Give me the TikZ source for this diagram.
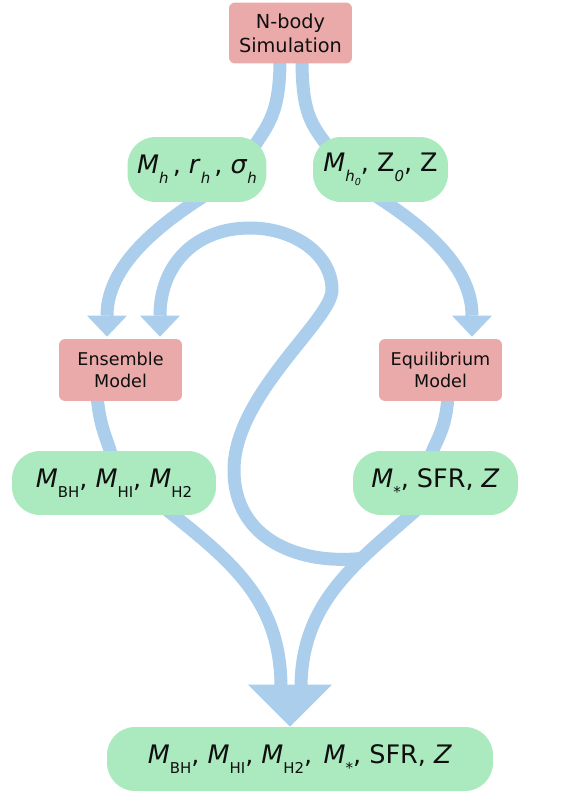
\documentclass[tikz,border=0pt]{standalone}
\usepackage{fontspec}
\setmainfont{DejaVu Sans}
\usetikzlibrary{arrows.meta,calc}
\pgfdeclarelayer{bg}
\pgfsetlayers{bg,main}
\definecolor{pinkbox}{RGB}{234,170,170}
\definecolor{greenbox}{RGB}{170,234,190}
\definecolor{flowblue}{RGB}{170,206,236}
\definecolor{ink}{RGB}{15,15,15}
\newcommand\Sb[1]{\raisebox{-5.5pt}{\fontsize{8.5}{9}\selectfont #1}}
\newcommand\Mi{\textit{M}}
\newcommand\cm{,\hspace{0.45em}}
\begin{document}
\begin{tikzpicture}[x=0.02cm,y=-0.02cm,
  modelbox/.style={fill=pinkbox, rounded corners=0.12cm, text=ink, align=center, inner sep=0pt,
    minimum width=2.46cm, minimum height=1.24cm, font=\fontsize{10}{12.5}\selectfont},
  databox/.style={fill=greenbox, rounded corners=0.56cm, text=ink, inner sep=0pt,
    minimum height=1.3cm, font=\fontsize{14.5}{17}\selectfont},
  flow/.style={draw=flowblue, line width=0.26cm},
  tipped/.style={-{Triangle[width=0.8cm,length=0.42cm,line width=0pt]}}]
\useasboundingbox (0,0) rectangle (564,794);

\node[modelbox, minimum height=1.22cm, font=\fontsize{11}{13.5}\selectfont] (sim) at (290.5,33) {N-body\\Simulation};
\node[databox, minimum width=2.78cm] (g1) at (197,169.5) {\Mi\Sb{\textit{h}}\,, \textit{r}\Sb{\textit{h}}\,, \textit{σ}\Sb{\textit{h}}};
\node[databox, minimum width=2.7cm] (g2) at (380.5,169.5) {\Mi\Sb{\textit{h}\raisebox{-2.5pt}{\fontsize{5.5}{6}\selectfont\textit{0}}}, Z\Sb{\textit{0}}, Z};
\node[modelbox] (ens) at (120.5,370) {Ensemble\\Model};
\node[modelbox] (equ) at (440.5,370) {Equilibrium\\Model};
\node[databox, minimum width=4.08cm, minimum height=1.28cm] (bh) at (114,483) {\Mi\Sb{BH}, \Mi\Sb{HI}, \Mi\Sb{H2}};
\node[databox, minimum width=3.3cm, minimum height=1.28cm] (ms) at (435.5,483) {\Mi\Sb{*}, SFR, \textit{Z}};
\node[databox, minimum width=7.72cm, minimum height=1.28cm] (fin) at (300,759) {\Mi\Sb{BH}, \Mi\Sb{HI}, \Mi\Sb{H2}\cm\Mi\Sb{*}, SFR, \textit{Z}};

\coordinate (J) at ($(ms.south)+(-73.5,43)$);

\begin{pgfonlayer}{bg}
\draw[flow] ($(sim.south)+(-10.5,-5)$) .. controls ($(sim.south)+(-10.5,50)$) and ($(g1.north)+(71,-12)$) .. ($(g1.north)+(55,13)$);
\draw[flow] ($(sim.south)+(11.5,-5)$) .. controls ($(sim.south)+(11.5,52)$) and ($(g2.north)+(-68.5,-12)$) .. ($(g2.north)+(-50.5,13)$);
\draw[flow,tipped] ($(g1.south)+(8,-7)$) .. controls ($(g1.south)+(-47,28)$) and ($(ens.north)+(-13.5,-69)$) .. ($(ens.north)+(-13.5,-2)$);
\draw[flow,tipped] ($(g2.south)+(-5.5,-7)$) .. controls ($(g2.south)+(49.5,28)$) and ($(equ.north)+(31.5,-69)$) .. ($(equ.north)+(31.5,-2)$);
\draw[flow] ($(ens.south)+(-23.5,-6)$) .. controls ($(ens.south)+(-20.5,29)$) and ($(bh.north)+(-6,-11)$) .. ($(bh.north)+(-2,7)$);
\draw[flow] ($(equ.south)+(7.5,-6)$) .. controls ($(equ.south)+(5.5,29)$) and ($(ms.north)+(0.5,-11)$) .. ($(ms.north)+(-5.5,7)$);
\draw[flow] ($(bh.south)+(51,-7)$) .. controls ($(bh.south)+(116,45)$) and ($(fin.north)+(-19,-127)$) .. ($(fin.north)+(-19,-39)$);
\draw[flow] ($(ms.south)+(-17.5,-7)$) .. controls ($(ms.south)+(-75.5,45)$) and ($(fin.north)+(1,-127)$) .. ($(fin.north)+(1,-39)$);
\fill[flowblue] ($(fin.north)+(-52,-42)$) -- ($(fin.north)+(32,-42)$) -- ($(fin.north)+(-10,0)$) -- cycle;
\draw[flow,tipped] (J) .. controls (300,565) and (234,540) .. (234,470)
   .. controls (234,395) and (332,320) .. (332,290)
   .. controls (332,255) and (295,228) .. (250,228)
   .. controls (195,228) and (160,265) .. ($(ens.north)+(39.5,-2)$);
\end{pgfonlayer}
\end{tikzpicture}
\end{document}
